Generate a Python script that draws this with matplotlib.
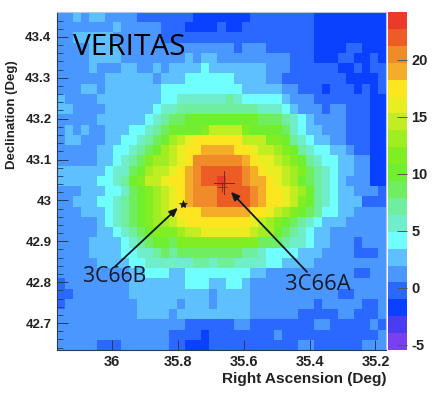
import matplotlib
matplotlib.use("Agg")
import matplotlib.pyplot as plt
import numpy as np
from matplotlib.colors import BoundaryNorm, ListedColormap
from matplotlib.ticker import MultipleLocator, FixedLocator

# significance map, one base-36 digit per cell = colour step (0 = violet ... j = red)
# rows go top to bottom, columns go left to right, spaces only for reading
sig_rows = [
    "4454554444 3333333 2222222 33333333 222222222",
    "4444444544444 333 2222 3 22 333333333 222222222",
    "4455555444444 3333333333333333333 222222222",
    "44445555444444 44444444 3 444 333333 2222 33 222",
    "44445555444444 44 5 4 55 444444444 333 222 33 22 3 2",
    "44445444554454 5555 6 5555555 444 333333 22 3 2 33",
    "44444455555545 55 666666 5555 44 33333333 2222 3",
    "44455455555556 666666666 55555 44 333 2 333 2 3 2 3",
    "54444555555556 6 777777 8 7 66666 5 444 3333333 22",
    "55444455555567 7 8888888888 777 6 5 444 3 44 333 22",
    "44444555555678 99 aaaaaaaaa 999 8765 4444 333 22",
    "45454455566789 aaaa b dddd b aaaa 9 76 55 444 333 22",
    "45544455667 89a cde ffffff ddd bb a876 55 44 333 22",
    "4444455667 89ac deff gggg ff e dd c ba8766 5 5 4 33 22",
    "4444455678 9bcc def hhhhhh gfeed cba876 6 55 44 22",
    "555555 677 9acdd efgh iiiii hgfee dcb987 6 55 44 22",
    "55555667 8abdd e ffgh iijii hggfedca9876 5 444 22",
    "44455566 79abcd efghhh iiii hgff edca87655 4443",
    "44555667 89abcd efghhh iiii hgff edba87655 5333",
    "444555 6789abcd efff gggggg ffed cba98665 54444",
    "44444 5678 9abcc de ffffffff edcb a9876555 44444",
    "4444455 6789abb bcdd eeeeee dcca 98765544 44444",
    "44445555 6789aa 9 bbbbbbbbbb 999 87765 5444 3444",
    "44445555 667789 8 99999999 88 7 66 66555 4444 333 4",
    "44444 5555 66 777 777887 88 7777 66 5555 444444444",
    "444444444 55 666 55 66666666 55 44 444444444 33 44",
    "3 44444444 55555 55666 55 66 5 4444 4444444444444",
    "33 4444444 55555 55555 4 5555 4444 4444444 33 4444",
    "3 444444444 5555 5 4 555 4 5555 4444 4444 3 44444 33 4",
    "4444444444 5555 4 555555555 4444 44 33333 44 333 4",
    "44444444444444 44 333333 44 3333 3333 44 33333 4 3",
    "44444444444444 3333 2 33333333 4 333333333333 4",
    "44444 333 444444 33 222 333333333 33 44 333333 444",
]

ra_left = 36.167
ra_right = 35.168
dec_top = 43.461
dec_bottom = 42.634
sig_low = -5.44
sig_high = 24.2

step_colors = [
    "#7a40f0", "#4a3cf0", "#0a40ff", "#2a68ff", "#4a98ff",
    "#5fc0ff", "#70ffff", "#70eecc", "#70eea0", "#70ee60",
    "#70ee30", "#80ee22", "#a0ee22", "#c0ee22", "#e8ee22",
    "#fde61f", "#f5ac28", "#ef8b28", "#ee5c25", "#e93a2a",
]

ra_ticks = [36, 35.8, 35.6, 35.4, 35.2]
ra_labels = ["36", "35.8", "35.6", "35.4", "35.2"]
dec_ticks = [42.7, 42.8, 42.9, 43, 43.1, 43.2, 43.3, 43.4]
dec_labels = ["42.7", "42.8", "42.9", "43", "43.1", "43.2", "43.3", "43.4"]
bar_ticks = [-5, 0, 5, 10, 15, 20]

W, H = 436, 393


def box(x0, y0, x1, y1):
    return [x0 / W, 1 - y1 / H, (x1 - x0) / W, (y1 - y0) / H]


plt.rcParams["font.family"] = ["Liberation Sans", "DejaVu Sans"]
fig = plt.figure(figsize=(W / 100, H / 100), dpi=100)
ax = fig.add_axes(box(57, 12, 386, 350))
cax = fig.add_axes(box(388, 12, 407, 350))

levels = np.array([[int(c, 36) for c in r.replace(" ", "")] for r in sig_rows])
edges = np.linspace(sig_low, sig_high, len(step_colors) + 1)
sig = edges[levels] + (edges[1] - edges[0]) / 2

cmap = ListedColormap(step_colors)
norm = BoundaryNorm(edges, cmap.N)
ra_edges = np.linspace(ra_left, ra_right, sig.shape[1] + 1)
dec_edges = np.linspace(dec_top, dec_bottom, sig.shape[0] + 1)
mesh = ax.pcolormesh(ra_edges, dec_edges, sig, cmap=cmap, norm=norm, linewidth=0, rasterized=True)
ax.set_xlim(ra_left, ra_right)
ax.set_ylim(dec_bottom, dec_top)

ax.xaxis.set_major_locator(FixedLocator(ra_ticks))
ax.set_xticklabels(ra_labels)
ax.yaxis.set_major_locator(FixedLocator(dec_ticks))
ax.set_yticklabels(dec_labels)
ax.yaxis.set_minor_locator(MultipleLocator(0.02))
tick_col = "#2a3a55"
ax.tick_params(axis="x", which="major", direction="in", length=7, width=0.7, color=tick_col, pad=3.5,
               labelsize=10.5, labelcolor="#222222")
ax.tick_params(axis="y", which="major", direction="in", length=8, width=0.7, color=tick_col, pad=4,
               labelsize=9.5, labelcolor="#222222")
ax.tick_params(axis="y", which="minor", direction="in", length=4, width=0.6, color=tick_col)
for lab in ax.get_xticklabels() + ax.get_yticklabels():
    lab.set_fontweight("bold")

ax.spines["left"].set_color("#2a3a55")
ax.spines["bottom"].set_color("#2a3a55")
ax.spines["top"].set_color("#b5c5e0")
ax.spines["right"].set_color("#b5c5e0")
for s in ax.spines.values():
    s.set_linewidth(0.8)

fig.text(386 / W, 1 - 379 / H, "Right Ascension (Deg)", ha="right", va="center",
         fontsize=11.1, fontweight="bold", color="#222222")
fig.text(12 / W, 1 - 115 / H, "Declination (Deg)", rotation=90, ha="center", va="center",
         fontsize=9.5, fontweight="bold", color="#222222")

# colour scale
cb = fig.colorbar(mesh, cax=cax, ticks=bar_ticks, spacing="proportional", drawedges=False)
cb.outline.set_visible(False)
cb.minorticks_off()
cax.set_ylim(sig_low, sig_high)
cax.tick_params(axis="y", which="major", direction="in", length=7, width=0.7, color="#555555", pad=3,
                labelsize=10.5, labelcolor="#222222")
cax.set_yticklabels(["-5", "0", "5", "10", "15", "20"], fontweight="bold")

# annotations
ax.text(36.118, 43.373, "VERITAS", fontsize=21.5, family="Open Sans", color="black", va="center", ha="left")
ax.text(35.991, 42.813, "3C66B", fontsize=15.2, family="Open Sans", color="#101828", va="center", ha="center")
ax.text(35.375, 42.794, "3C66A", fontsize=15.8, family="Open Sans", color="#101828", va="center", ha="center")

arrow = dict(arrowstyle="-|>,head_width=0.22,head_length=0.5", color="#101820", lw=1.3, shrinkA=0, shrinkB=0)
ax.annotate("", xy=(35.80, 42.982), xytext=(35.991, 42.838), arrowprops=arrow)
ax.annotate("", xy=(35.639, 43.021), xytext=(35.408, 42.825), arrowprops=arrow)

ax.plot([35.785], [42.992], marker="*", ms=6, color="#101820", mew=0.5)
ax.plot([35.69, 35.63], [43.043, 43.043], color="#7a2a20", lw=0.7)
ax.plot([35.66, 35.66], [43.072, 43.015], color="#7a2a20", lw=0.7)
ax.plot([35.665], [43.032], marker="+", ms=7, color="#7a2a20", mew=0.6)

fig.savefig("out.png", dpi=100)
